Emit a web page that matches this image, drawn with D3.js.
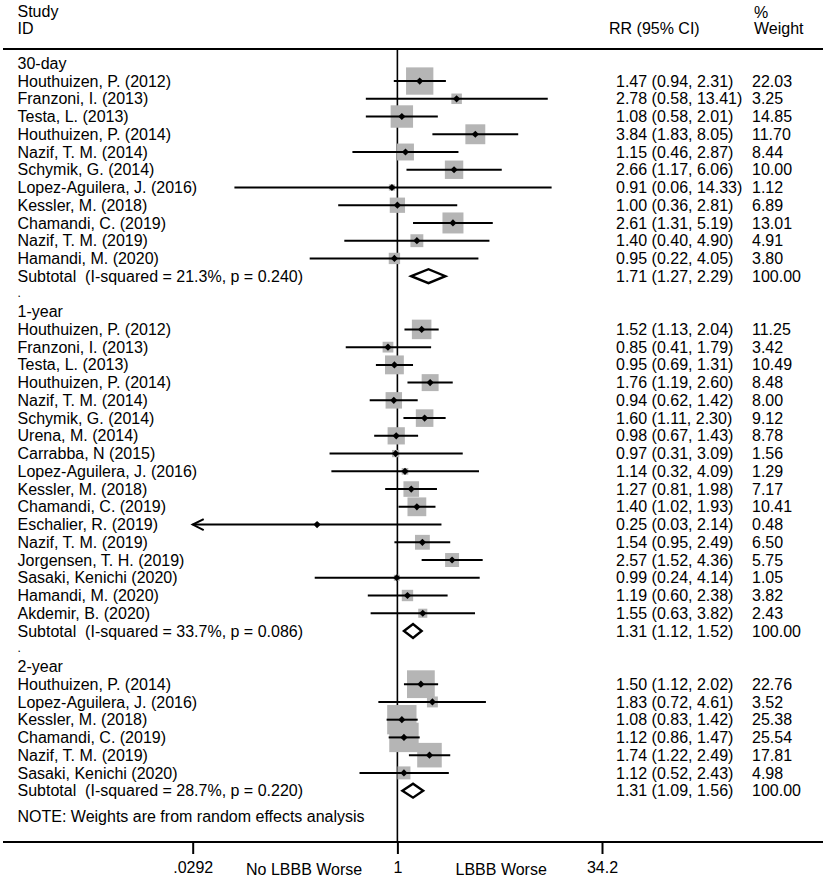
<!DOCTYPE html>
<html><head><meta charset="utf-8">
<script src="https://cdn.jsdelivr.net/npm/d3@7"></script>
<style>body{margin:0;background:#fff}text{font-family:"Liberation Sans",Arial,sans-serif;}</style>
</head><body>
<svg id="c" width="829" height="881"></svg>
<script>
// ---- data ----
const groupNames = ["30-day", "1-year", "2-year"];
const studyGroup = [0,0,0,0,0,0,0,0,0,0,0, 1,1,1,1,1,1,1,1,1,1,1,1,1,1,1,1,1, 2,2,2,2,2,2];
const studyNames = [
 "Houthuizen, P. (2012)","Franzoni, I. (2013)","Testa, L. (2013)","Houthuizen, P. (2014)","Nazif, T. M. (2014)","Schymik, G. (2014)","Lopez-Aguilera, J. (2016)","Kessler, M. (2018)","Chamandi, C. (2019)","Nazif, T. M. (2019)","Hamandi, M. (2020)",
 "Houthuizen, P. (2012)","Franzoni, I. (2013)","Testa, L. (2013)","Houthuizen, P. (2014)","Nazif, T. M. (2014)","Schymik, G. (2014)","Urena, M. (2014)","Carrabba, N (2015)","Lopez-Aguilera, J. (2016)","Kessler, M. (2018)","Chamandi, C. (2019)","Eschalier, R. (2019)","Nazif, T. M. (2019)","Jorgensen, T. H. (2019)","Sasaki, Kenichi (2020)","Hamandi, M. (2020)","Akdemir, B. (2020)",
 "Houthuizen, P. (2014)","Lopez-Aguilera, J. (2016)","Kessler, M. (2018)","Chamandi, C. (2019)","Nazif, T. M. (2019)","Sasaki, Kenichi (2020)"];
const studyRR = [1.47,2.78,1.08,3.84,1.15,2.66,0.91,1.00,2.61,1.40,0.95,
 1.52,0.85,0.95,1.76,0.94,1.60,0.98,0.97,1.14,1.27,1.40,0.25,1.54,2.57,0.99,1.19,1.55,
 1.50,1.83,1.08,1.12,1.74,1.12];
const studyLo = [0.94,0.58,0.58,1.83,0.46,1.17,0.06,0.36,1.31,0.40,0.22,
 1.13,0.41,0.69,1.19,0.62,1.11,0.67,0.31,0.32,0.81,1.02,0.026,0.95,1.52,0.24,0.60,0.63,
 1.12,0.72,0.83,0.86,1.22,0.52];
const studyHi = [2.31,13.41,2.01,8.05,2.87,6.06,14.33,2.81,5.19,4.90,4.05,
 2.04,1.79,1.31,2.60,1.42,2.30,1.43,3.09,4.09,1.98,1.93,2.14,2.49,4.36,4.14,2.38,3.82,
 2.02,4.61,1.42,1.47,2.49,2.43];
const studyWeight = [22.03,3.25,14.85,11.70,8.44,10.00,1.12,6.89,13.01,4.91,3.80,
 11.25,3.42,10.49,8.48,8.00,9.12,8.78,1.56,1.29,7.17,10.41,0.48,6.50,5.75,1.05,3.82,2.43,
 22.76,3.52,25.38,25.54,17.81,4.98];
const subtotalLabel = ["Subtotal  (I-squared = 21.3%, p = 0.240)","Subtotal  (I-squared = 33.7%, p = 0.086)","Subtotal  (I-squared = 28.7%, p = 0.220)"];
const subtotalRR = [1.71, 1.31, 1.31];
const subtotalLo = [1.27, 1.12, 1.09];
const subtotalHi = [2.29, 1.52, 1.56];
const tickValues = [0.0292, 1, 34.2];
const tickLabels = [".0292", "1", "34.2"];
const favourLabels = ["No LBBB Worse", "LBBB Worse"];
const favourAt = [0.2, 6];
const noteText = "NOTE: Weights are from random effects analysis";

// ---- layout ----
const svg = d3.select("#c");
const FS = 16;
const xLeft = 17.5, xRR = 616, xW = 752;
const x = d3.scaleLog().domain([tickValues[0], tickValues[2]]).range([192.7, 602]);
const rowY0 = 63.3, rowH = 17.74;
const yTop = 49, yAxis = 842;
const boxSide = d3.scaleSqrt().domain([0, 1]).range([0, 5.82]);
const fmt = v => v.toFixed(2);

// build rows
const rows = [];
groupNames.forEach((g, gi) => {
  if (gi > 0) rows.push({type: "dot"});
  rows.push({type: "head", label: g});
  studyNames.forEach((n, i) => {
    if (studyGroup[i] === gi) rows.push({type: "study", label: n, rr: studyRR[i], lo: studyLo[i], hi: studyHi[i], w: studyWeight[i]});
  });
  rows.push({type: "sub", label: subtotalLabel[gi], rr: subtotalRR[gi], lo: subtotalLo[gi], hi: subtotalHi[gi], w: 100});
});
const y = d3.scaleLinear().domain([0, 1]).range([rowY0, rowY0 + rowH]);
rows.forEach((r, i) => r.y = y(i));

function txt(xp, yp, s, anchor) {
  return svg.append("text").attr("x", xp).attr("y", yp).attr("dy", "0.35em")
    .attr("font-size", FS).attr("fill", "#000").attr("text-anchor", anchor || "start")
    .style("white-space", "pre").text(s);
}

// headers
txt(xLeft, 11.7, "Study");
txt(xLeft, 28.3, "ID");
txt(609, 28.3, "RR (95% CI)");
txt(754, 12, "%");
txt(754, 28.3, "Weight");

// lines
svg.append("line").attr("x1", 3).attr("x2", 823).attr("y1", yTop).attr("y2", yTop).attr("stroke", "#000").attr("stroke-width", 2);
svg.append("line").attr("x1", x(1)).attr("x2", x(1)).attr("y1", yTop).attr("y2", yAxis).attr("stroke", "#000").attr("stroke-width", 1.6);

// left labels
rows.forEach(r => {
  if (r.type === "dot") txt(xLeft, r.y - 1, ".").attr("font-size", 12);
  else txt(xLeft, r.y, r.label);
});

const studies = rows.filter(r => r.type === "study");
const subs = rows.filter(r => r.type === "sub");

// boxes
svg.append("g").selectAll("rect").data(studies).join("rect")
  .attr("x", d => x(d.rr) - boxSide(d.w) / 2).attr("y", d => d.y - boxSide(d.w) / 2)
  .attr("width", d => boxSide(d.w)).attr("height", d => boxSide(d.w))
  .attr("fill", "#b5b5b5");

// CI lines
const dmin = x.domain()[0], dmax = x.domain()[1];
svg.append("g").selectAll("line").data(studies).join("line")
  .attr("x1", d => x(Math.max(d.lo, dmin))).attr("x2", d => x(Math.min(d.hi, dmax)))
  .attr("y1", d => d.y).attr("y2", d => d.y).attr("stroke", "#000").attr("stroke-width", 2);
// arrows for truncated CIs
studies.filter(d => d.lo < dmin).forEach(d => {
  const ax = x(dmin);
  svg.append("path").attr("d", `M${ax + 11},${d.y - 5.5}L${ax},${d.y}L${ax + 11},${d.y + 5.5}`)
    .attr("fill", "none").attr("stroke", "#000").attr("stroke-width", 2);
});
// point estimates
svg.append("g").selectAll("path").data(studies).join("path")
  .attr("d", d => { const c = x(d.rr), h = 3.6; return `M${c - h},${d.y}L${c},${d.y - h}L${c + h},${d.y}L${c},${d.y + h}Z`; })
  .attr("fill", "#000");

// subtotal diamonds
svg.append("g").selectAll("path").data(subs).join("path")
  .attr("d", d => `M${x(d.lo)},${d.y}L${x(d.rr)},${d.y - 7}L${x(d.hi)},${d.y}L${x(d.rr)},${d.y + 7}Z`)
  .attr("fill", "#fff").attr("stroke", "#000").attr("stroke-width", 2.4);

// right columns
rows.filter(r => r.type === "study" || r.type === "sub").forEach(r => {
  txt(xRR, r.y, `${fmt(r.rr)} (${fmt(r.lo)}, ${fmt(r.hi)})`);
  txt(xW, r.y, fmt(r.w));
});

// note
txt(xLeft, 816, noteText);

// axis
svg.append("line").attr("x1", 3).attr("x2", 823).attr("y1", yAxis).attr("y2", yAxis).attr("stroke", "#000").attr("stroke-width", 2);
const axis = d3.axisBottom(x).tickValues(tickValues).tickFormat((d, i) => tickLabels[i]).tickSize(12).tickPadding(8);
const ag = svg.append("g").attr("transform", `translate(0,${yAxis})`).call(axis);
ag.select(".domain").remove();
ag.selectAll(".tick line").attr("stroke", "#000").attr("stroke-width", 2);
ag.selectAll(".tick text").attr("font-size", FS).attr("font-family", "Liberation Sans, Arial, sans-serif").attr("fill", "#000");
favourLabels.forEach((s, i) => txt(x(favourAt[i]), 869.5, s, "middle"));
</script>
</body></html>
